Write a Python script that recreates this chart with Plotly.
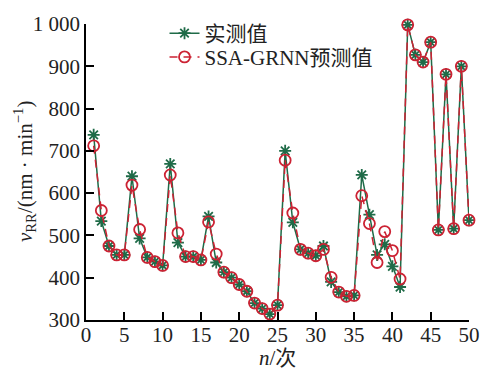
import plotly.graph_objects as go

n = list(range(1, 51))
actual = [738, 534, 475, 454, 454, 640, 493, 448, 438, 429,
          669, 483, 450, 450, 442, 545, 436, 413, 400, 384,
          368, 340, 327, 314, 335, 700, 531, 467, 458, 452,
          475, 390, 366, 356, 358, 643, 549, 454, 479, 427,
          378, 998, 927, 910, 957, 513, 881, 516, 900, 536]
pred = [712, 559, 475, 454, 454, 619, 514, 448, 438, 429,
        643, 506, 450, 450, 442, 532, 456, 413, 400, 384,
        368, 340, 327, 314, 335, 678, 553, 467, 458, 452,
        467, 401, 366, 356, 358, 594, 528, 436, 509, 464,
        397, 998, 927, 910, 957, 513, 881, 516, 900, 536]
series_names = ["实测值", "SSA-GRNN预测值"]
x_ticks = [0, 5, 10, 15, 20, 25, 30, 35, 40, 45, 50]
y_ticks = [300, 400, 500, 600, 700, 800, 900, 1000]
y_ticklabels = ["300", "400", "500", "600", "700", "800", "900", "1 000"]

GREEN = "#1f6b48"
RED = "#cc2233"
FONT = "Liberation Serif, Times New Roman, Noto Sans CJK SC, serif"

fig = go.Figure()
fig.add_trace(go.Scatter(
    x=n, y=actual, name=series_names[0], mode="lines+markers",
    line=dict(color=GREEN, width=1.5),
    marker=dict(symbol="asterisk-open", size=10, color=GREEN,
                line=dict(color=GREEN, width=1.8)),
    cliponaxis=False, legend="legend",
))
fig.add_trace(go.Scatter(
    x=n, y=pred, name=series_names[1], mode="lines+markers",
    line=dict(color=RED, width=1.5, dash="8px,6px"),
    marker=dict(symbol="circle-open", size=11, color=RED,
                line=dict(color=RED, width=1.8)),
    cliponaxis=False, legend="legend2",
))

legend_common = dict(xanchor="left", yanchor="top", bgcolor="rgba(0,0,0,0)",
                     font=dict(size=21, family=FONT), itemwidth=30)

fig.update_layout(
    width=492, height=371,
    margin=dict(l=86, r=16, t=21, b=51),
    paper_bgcolor="white", plot_bgcolor="white",
    font=dict(family=FONT, size=21, color="#222222"),
    showlegend=True,
    legend=dict(x=0.205, y=1.037, **legend_common),
    legend2=dict(x=0.205, y=0.957, **legend_common),
    xaxis=dict(range=[0, 50], tickmode="array", tickvals=x_ticks,
               ticks="inside", ticklen=8, tickwidth=1.5, tickcolor="black",
               showline=True, linecolor="black", linewidth=1.5,
               showgrid=False, zeroline=False, ticklabelstandoff=-5,
               tickfont=dict(size=21, family=FONT)),
    yaxis=dict(range=[300, 1000], tickmode="array", tickvals=y_ticks,
               ticktext=y_ticklabels,
               ticks="inside", ticklen=8, tickwidth=1.5, tickcolor="black",
               showline=True, linecolor="black", linewidth=1.5,
               showgrid=False, zeroline=False,
               tickfont=dict(size=21, family=FONT)),
    annotations=[
        dict(text="<i>n</i>/次", xref="paper", yref="paper", x=0.5, y=0,
             yshift=-38, xanchor="center", yanchor="middle",
             showarrow=False, font=dict(size=21, family=FONT)),
        dict(text="<i>v</i><sub>RR</sub>/(nm · min<sup>−1</sup>)",
             xref="paper", yref="paper", x=0, y=0.5, xshift=-62,
             xanchor="center", yanchor="middle", textangle=-90,
             showarrow=False, font=dict(size=21, family=FONT)),
    ],
)

fig.write_html("out.html")
